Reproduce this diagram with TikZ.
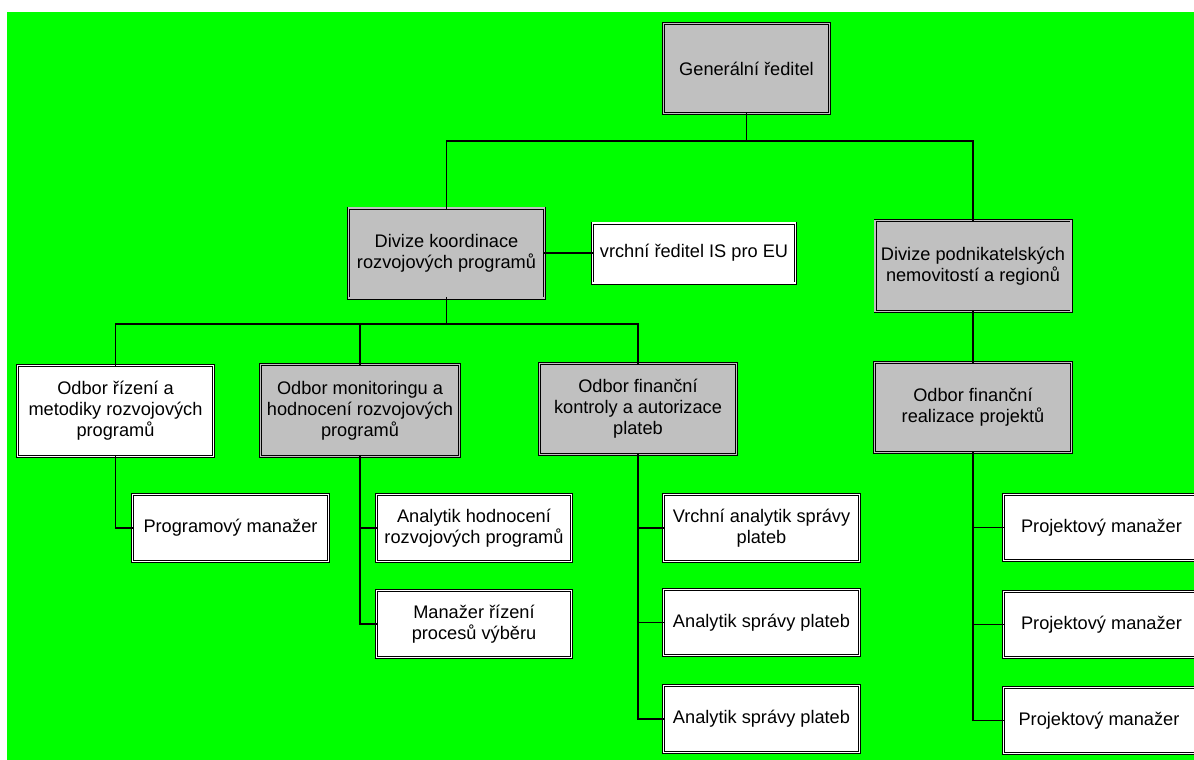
\documentclass[tikz,border=0pt]{standalone}
\usepackage{fontspec}
\setmainfont{Liberation Sans}
\definecolor{bggreen}{RGB}{0,255,0}
\definecolor{boxgrey}{RGB}{192,192,192}
\tikzset{
	box/.style={draw=black, line width=0.8pt, double distance=1.4pt, inner sep=0pt,
		align=center, font=\fontsize{18.2}{21}\selectfont},
	link/.style={draw=black, line width=1.9pt, line cap=rect}
}
\begin{document}
\begin{tikzpicture}[x=1pt, y=-1pt, line join=miter]
	
	% plocha
	\useasboundingbox (0,0) rectangle (1194,760);
	\fill[bggreen] (7,12) rectangle (1194,760);
	
	% spojnice
	\coordinate (l1) at (746.5,141);
	\coordinate (l3) at (446.5,324);
	
	% boxy
	\foreach \name/\x/\y/\w/\h/\c/\txt in {
		gr/746.5/68.5/166/90/boxgrey/Generální ředitel,
		dkrp/446.5/253/196/90/boxgrey/Divize koordinace\\rozvojových programů,
		vr/694/253/203/60/white/vrchní ředitel IS pro EU,
		dpnr/973/266/196/91/boxgrey/Divize podnikatelských\\nemovitostí a regionů,
		orm/115.5/411/196/91/white/Odbor řízení a\\metodiky rozvojových\\programů,
		ohrp/360/410.5/199/92/boxgrey/Odbor monitoringu a\\\makebox[180pt]{hodnocení rozvojových}\\programů,
		ofk/638/409/197/91/boxgrey/Odbor finanční\\kontroly a autorizace\\plateb,
		ofr/973/407.5/197/90/boxgrey/Odbor finanční\\realizace projektů,
		pm/230.5/528/196/67/white/Programový manažer,
		ahrp/474/528/195/67/white/Analytik hodnocení\\rozvojových programů,
		mrpv/474/624/195/67/white/Manažer řízení\\procesů výběru,
		vasp/761.5/528/196/67/white/Vrchní analytik správy\\plateb,
		asp1/761.5/622.5/196/66/white/Analytik správy plateb,
		asp2/761.5/719/196/67/white/Analytik správy plateb,
		pjm1/1101.5/527.5/196/66/white/Projektový manažer,
		pjm2/1101.5/624.5/196/66/white/Projektový manažer,
		pjm3/1101.5/720.5/196/66/white/Projektový manažer
	}{
		\node[box, fill=\c, double=\c, minimum width=\w, minimum height=\h] (\name) at (\x,\y) {\txt};
	}
	
	% vazby
	\draw[link] (gr.south) -- (l1);
	\draw[link] (dkrp.north) |- (l1) -| (dpnr.north);
	\draw[link] (dkrp.east) -- (vr.west);
	\draw[link] (dkrp.south) -- (l3);
	\draw[link] (orm.north) |- (l3) -| (ofk.north);
	\draw[link] (ohrp.north) -- (ohrp.north |- l3);
	\draw[link] (dpnr.south) -- (ofr.north);
	
	\draw[link] (orm.south) |- (pm.west);
	\foreach \p/\k in {ohrp/ahrp, ohrp/mrpv, ofk/vasp, ofk/asp1, ofk/asp2, ofr/pjm1, ofr/pjm2, ofr/pjm3}{
		\draw[link] (\p.south) |- (\k.west);
	}
\end{tikzpicture}
\end{document}
